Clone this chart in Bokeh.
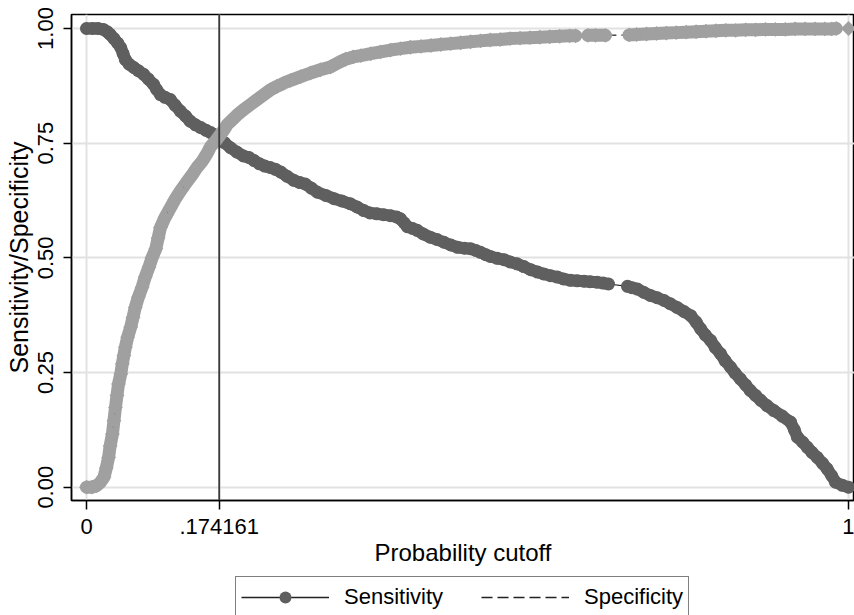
from bokeh.plotting import figure
from bokeh.layouts import column
from bokeh.models import (Range1d, FixedTicker, NumeralTickFormatter, Span,
                          Legend, LegendItem)
from bokeh.embed import file_html
from bokeh.resources import INLINE
import math

FONT = "Liberation Sans"

# Probability cutoff (x) and sensitivity values
sens_cutoff = [0.000, 0.008, 0.015, 0.022, 0.027, 0.031, 0.036, 0.041, 0.045, 0.048,
               0.051, 0.056, 0.062, 0.068, 0.075, 0.081, 0.088, 0.092, 0.097, 0.103,
               0.110, 0.116, 0.123, 0.130, 0.136, 0.143, 0.150, 0.157, 0.163, 0.169,
               0.174, 0.181, 0.189, 0.197, 0.206, 0.213, 0.220, 0.227, 0.234, 0.241,
               0.248, 0.255, 0.263, 0.272, 0.280, 0.287, 0.295, 0.303, 0.314, 0.325,
               0.335, 0.346, 0.355, 0.364, 0.372, 0.381, 0.390, 0.399, 0.407, 0.412,
               0.417, 0.421, 0.428, 0.434, 0.442, 0.451, 0.460, 0.469, 0.478, 0.487,
               0.496, 0.504, 0.511, 0.517, 0.524, 0.530, 0.539, 0.548, 0.556, 0.565,
               0.574, 0.583, 0.592, 0.600, 0.609, 0.618, 0.626, 0.635, 0.644, 0.653,
               0.661, 0.670, 0.678, 0.685, 0.710, 0.716, 0.723, 0.731, 0.740, 0.749,
               0.758, 0.766, 0.775, 0.784, 0.793, 0.800, 0.806, 0.812, 0.819, 0.825,
               0.832, 0.838, 0.845, 0.851, 0.858, 0.865, 0.871, 0.878, 0.885, 0.893,
               0.902, 0.913, 0.924, 0.929, 0.933, 0.940, 0.946, 0.952, 0.959, 0.966,
               0.972, 0.978, 0.983, 0.992, 1.000]
sensitivity = [1.000, 1.000, 1.000, 0.998, 0.993, 0.987, 0.978, 0.968, 0.958, 0.945,
               0.932, 0.922, 0.915, 0.908, 0.900, 0.890, 0.878, 0.867, 0.856, 0.850,
               0.845, 0.833, 0.820, 0.809, 0.798, 0.790, 0.784, 0.778, 0.773, 0.768,
               0.762, 0.751, 0.740, 0.731, 0.722, 0.719, 0.712, 0.705, 0.700, 0.697,
               0.693, 0.687, 0.678, 0.669, 0.664, 0.661, 0.652, 0.643, 0.636, 0.629,
               0.624, 0.618, 0.611, 0.603, 0.598, 0.596, 0.594, 0.592, 0.589, 0.585,
               0.576, 0.568, 0.564, 0.560, 0.552, 0.545, 0.540, 0.534, 0.528, 0.523,
               0.521, 0.520, 0.516, 0.512, 0.507, 0.503, 0.499, 0.496, 0.491, 0.487,
               0.481, 0.474, 0.469, 0.465, 0.461, 0.458, 0.454, 0.451, 0.450, 0.449,
               0.448, 0.447, 0.445, 0.443, 0.438, 0.435, 0.432, 0.425, 0.418, 0.413,
               0.407, 0.400, 0.392, 0.383, 0.374, 0.360, 0.345, 0.332, 0.320, 0.305,
               0.291, 0.276, 0.262, 0.249, 0.236, 0.223, 0.211, 0.200, 0.189, 0.178,
               0.167, 0.155, 0.142, 0.125, 0.109, 0.098, 0.087, 0.076, 0.065, 0.052,
               0.040, 0.025, 0.011, 0.004, 0.000]

# Probability cutoff (x) and specificity values
spec_cutoff = [0.000, 0.007, 0.013, 0.018, 0.023, 0.026, 0.029, 0.031, 0.034, 0.036,
               0.038, 0.040, 0.042, 0.045, 0.047, 0.049, 0.051, 0.054, 0.058, 0.061,
               0.064, 0.068, 0.073, 0.077, 0.082, 0.086, 0.091, 0.094, 0.097, 0.103,
               0.110, 0.116, 0.123, 0.131, 0.139, 0.145, 0.152, 0.158, 0.163, 0.169,
               0.174, 0.180, 0.185, 0.192, 0.198, 0.206, 0.215, 0.224, 0.233, 0.241,
               0.250, 0.259, 0.268, 0.281, 0.294, 0.307, 0.320, 0.330, 0.340, 0.350,
               0.360, 0.373, 0.386, 0.399, 0.412, 0.425, 0.439, 0.452, 0.465, 0.478,
               0.491, 0.504, 0.517, 0.530, 0.543, 0.556, 0.569, 0.582, 0.595, 0.608,
               0.621, 0.634, 0.642, 0.658, 0.668, 0.681, 0.712, 0.722, 0.735, 0.748,
               0.761, 0.774, 0.787, 0.800, 0.813, 0.826, 0.839, 0.852, 0.865, 0.878,
               0.891, 0.904, 0.917, 0.930, 0.943, 0.956, 0.969, 0.978, 0.984, 1.000]
specificity = [0.000, 0.000, 0.003, 0.010, 0.022, 0.042, 0.065, 0.090, 0.116, 0.145,
               0.174, 0.200, 0.225, 0.247, 0.269, 0.287, 0.305, 0.327, 0.349, 0.370,
               0.392, 0.414, 0.436, 0.458, 0.480, 0.500, 0.520, 0.543, 0.566, 0.588,
               0.609, 0.627, 0.645, 0.664, 0.682, 0.697, 0.711, 0.727, 0.743, 0.754,
               0.765, 0.778, 0.791, 0.802, 0.812, 0.823, 0.834, 0.845, 0.856, 0.866,
               0.874, 0.881, 0.887, 0.895, 0.903, 0.910, 0.916, 0.925, 0.933, 0.938,
               0.941, 0.945, 0.949, 0.953, 0.956, 0.959, 0.961, 0.963, 0.965, 0.967,
               0.969, 0.971, 0.973, 0.975, 0.976, 0.978, 0.979, 0.980, 0.981, 0.982,
               0.983, 0.984, 0.984, 0.985, 0.985, 0.985, 0.986, 0.987, 0.988, 0.989,
               0.990, 0.991, 0.992, 0.993, 0.994, 0.995, 0.996, 0.996, 0.997, 0.997,
               0.998, 0.998, 0.998, 0.999, 0.999, 0.999, 0.999, 0.999, 1.000, 1.000]

series_labels = ["Sensitivity", "Specificity"]
optimal_cutoff = 0.174161
x_ticks = [0, 0.174161, 1]
x_tick_labels = ["0", ".174161", "1"]
y_ticks = [0, 0.25, 0.5, 0.75, 1.0]

GAP = 0.015  # cutoffs further apart than this leave a visible break in the marker band


def band(xs, ys):
    """Split the series into runs of closely spaced cutoffs (NaN between runs)."""
    bx, by = [xs[0]], [ys[0]]
    for i in range(1, len(xs)):
        if xs[i] - xs[i - 1] > GAP:
            bx.append(float("nan"))
            by.append(float("nan"))
        bx.append(xs[i])
        by.append(ys[i])
    return bx, by


SENS_COLOR = "#5f5f5f"
SPEC_COLOR = "#a0a0a0"
LINE_COLOR = "#222222"
DASH = "11 5"
DIAMOND = dict(marker="square", size=10.5, angle=math.pi / 4,
               fill_color=SPEC_COLOR, line_color=SPEC_COLOR, line_width=0)

p = figure(width=854, height=575, output_backend="svg", toolbar_location=None,
           x_range=Range1d(-0.0197, 1.0079), y_range=Range1d(-0.029, 1.0305),
           min_border_left=71, min_border_right=0, min_border_top=14,
           min_border_bottom=75)
p.background_fill_color = "white"
p.border_fill_color = "white"
p.outline_line_color = "black"
p.outline_line_width = 1.5

# grids
p.xgrid.ticker = FixedTicker(ticks=x_ticks)
p.ygrid.ticker = FixedTicker(ticks=y_ticks)
for g in (p.xgrid, p.ygrid):
    g.grid_line_color = "#e2e2e2"
    g.grid_line_width = 2

# x axis
xa = p.xaxis[0]
xa.ticker = FixedTicker(ticks=x_ticks)
xa.major_label_overrides = {t: l for t, l in zip(x_ticks, x_tick_labels)}
xa.axis_label = "Probability cutoff"
xa.major_tick_out = 9
xa.major_label_standoff = 9
xa.axis_label_standoff = 2

# y axis
ya = p.yaxis[0]
ya.ticker = FixedTicker(ticks=y_ticks)
ya.formatter = NumeralTickFormatter(format="0.00")
ya.axis_label = "Sensitivity/Specificity"
ya.major_label_orientation = "vertical"
ya.major_tick_out = 8
ya.major_label_standoff = 10
ya.axis_label_standoff = 3

for ax in (xa, ya):
    ax.major_tick_in = 0
    ax.minor_tick_line_color = None
    ax.axis_line_color = "black"
    ax.axis_line_width = 1.5
    ax.major_tick_line_color = "black"
    ax.major_tick_line_width = 1.5
    ax.major_label_text_font = FONT
    ax.major_label_text_font_size = "22px"
    ax.major_label_text_color = "black"
    ax.axis_label_text_font = FONT
    ax.axis_label_text_font_size = "24px"
    ax.axis_label_text_font_style = "normal"
    ax.axis_label_text_color = "black"
ya.axis_label_text_font_size = "25px"

# Sensitivity: dense marker band, connecting line, markers
sbx, sby = band(sens_cutoff, sensitivity)
p.line(sbx, sby, line_color=SENS_COLOR, line_width=12, line_join="round",
       line_cap="round")
p.line(sens_cutoff, sensitivity, line_color=LINE_COLOR, line_width=1.2)
p.scatter(sens_cutoff, sensitivity, marker="circle", size=13,
          fill_color=SENS_COLOR, line_color=SENS_COLOR, line_width=0)

# Specificity
pbx, pby = band(spec_cutoff, specificity)
p.line(pbx, pby, line_color=SPEC_COLOR, line_width=13, line_join="round",
       line_cap="round")
p.line(spec_cutoff, specificity, line_color=LINE_COLOR, line_width=1.2, line_dash=DASH)
p.scatter(spec_cutoff, specificity, **DIAMOND)

p.add_layout(Span(location=optimal_cutoff, dimension="height",
                  line_color="#3a3a3a", line_width=1.8))

# Legend strip below the plot; its key glyphs lie outside the strip's visible range
lg = figure(width=854, height=40, output_backend="svg", toolbar_location=None,
            x_range=Range1d(0, 1), y_range=Range1d(0, 1),
            x_axis_type=None, y_axis_type=None,
            min_border_left=71, min_border_right=0, min_border_top=0,
            min_border_bottom=0)
lg.outline_line_color = None
lg.background_fill_color = "white"
lg.border_fill_color = "white"
lg.xgrid.visible = False
lg.ygrid.visible = False
key_x, key_y = [-5.0], [-5.0]
l1 = lg.line(key_x, key_y, line_color=LINE_COLOR, line_width=1.5)
m1 = lg.scatter(key_x, key_y, marker="circle", fill_color=SENS_COLOR,
                line_color=SENS_COLOR, line_width=0)
l2 = lg.line(key_x, key_y, line_color=LINE_COLOR, line_width=1.5, line_dash=DASH)

legend = Legend(items=[LegendItem(label=series_labels[0], renderers=[l1, m1]),
                       LegendItem(label=series_labels[1], renderers=[l2])],
                orientation="horizontal", location=(164, -3))
legend.level = "underlay"
legend.glyph_width = 88
legend.glyph_height = 30
legend.label_standoff = 15
legend.spacing = 38
legend.padding = 5
legend.margin = 0
legend.label_text_font = FONT
legend.label_text_font_size = "22px"
legend.label_text_color = "black"
legend.border_line_color = "black"
legend.border_line_width = 1.5
legend.background_fill_color = "white"
legend.background_fill_alpha = 1
lg.add_layout(legend, "center")

# rotated-square key marker for the Specificity entry, drawn over the legend key
lg.scatter([0.5805], [0.45], **DIAMOND)

layout = column(p, lg, spacing=0)
open("out.html", "w").write(file_html(layout, INLINE))
